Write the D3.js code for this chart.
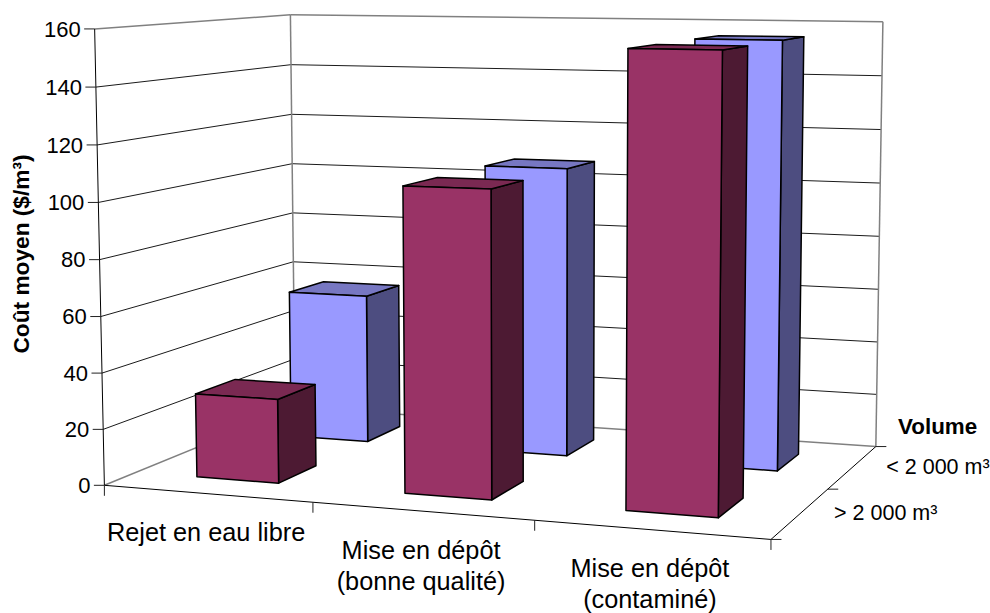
<!DOCTYPE html>
<html><head><meta charset="utf-8"><script src="https://cdn.jsdelivr.net/npm/d3@7/dist/d3.min.js"></script>
<style>html,body{margin:0;background:#fff}svg{display:block}text{font-family:"Liberation Sans",Arial,sans-serif;fill:#000}</style></head>
<body><svg id="c" width="990" height="613"></svg>
<script>
const categories=["Rejet en eau libre","Mise en dépôt\n(bonne qualité)","Mise en dépôt\n(contaminé)"];
const seriesNames=["> 2 000 m³","< 2 000 m³"];
const largeVolume=[30,107,155];
const smallVolume=[56,107,155];
const valueTicks=[0,20,40,60,80,100,120,140,160];
const seriesValues=[largeVolume,smallVolume];
const faceColours=[{front:"#993366",side:"#4d1a33",top:"#7a2952"},{front:"#9999ff",side:"#4d4d80",top:"#7777c2"}];

// Corners of the chart box in the unit cube (category, depth, height) and on the page.
const anchors=[[0,0,0,104,485],[1,0,0,771,539.7],[1,1,0,875.7,446.3],[0,1,0,295.5,407.5],[0,0,1,95,29],[0,1,1,290,14.7],[1,1,1,883,21.7]];

function solve(A,b){
  const n=b.length,M=A.map((r,i)=>[...r,b[i]]);
  for(let i=0;i<n;i++){
    let p=i;
    for(let k=i+1;k<n;k++)if(Math.abs(M[k][i])>Math.abs(M[p][i]))p=k;
    [M[i],M[p]]=[M[p],M[i]];
    for(let k=i+1;k<n;k++){const f=M[k][i]/M[i][i];for(let j=i;j<=n;j++)M[k][j]-=f*M[i][j];}
  }
  const x=Array(n).fill(0);
  for(let i=n-1;i>=0;i--){let s=M[i][n];for(let j=i+1;j<n;j++)s-=M[i][j]*x[j];x[i]=s/M[i][i];}
  return x;
}
// Least-squares perspective camera through the box corners.
function fitCamera(){
  const R=[],B=[];
  anchors.forEach(([u,v,h,x,y])=>{
    R.push([u,v,h,1,0,0,0,0,-x*u,-x*v,-x*h]);B.push(x);
    R.push([0,0,0,0,u,v,h,1,-y*u,-y*v,-y*h]);B.push(y);
  });
  const AtA=d3.range(11).map(i=>d3.range(11).map(j=>d3.sum(R,r=>r[i]*r[j])));
  const Atb=d3.range(11).map(i=>d3.sum(R,(r,k)=>r[i]*B[k]));
  return solve(AtA,Atb);
}
const P=fitCamera();
function proj(u,v,h){
  const w=P[8]*u+P[9]*v+P[10]*h+1;
  return[(P[0]*u+P[1]*v+P[2]*h+P[3])/w,(P[4]*u+P[5]*v+P[6]*h+P[7])/w];
}

const yScale=d3.scaleLinear().domain([0,160]).range([0,1]);
const xBand=d3.scaleBand().domain(categories).range([0,1]).paddingInner(0.6).paddingOuter(0.3);
const zBand=d3.scaleBand().domain(seriesNames).range([0,1]).paddingInner(0.6).paddingOuter(0.3);
const catEdges=d3.scaleLinear().domain([0,categories.length]).range([0,1]);
const depthEdges=d3.scaleLinear().domain([0,seriesNames.length]).range([0,1]);

const svg=d3.select("#c");
const path=d3.line();
const GREY="#808080",DARK="#1a1a1a";
function seg(g,a,b,col,w){g.append("path").attr("d",path([a,b])).attr("fill","none").attr("stroke",col).attr("stroke-width",w||1);}

// Walls and gridlines
const walls=svg.append("g");
valueTicks.forEach(t=>{
  const h=yScale(t),edge=t===160||t===0,c=edge?GREY:DARK,w=edge?1.5:1;
  seg(walls,proj(0,0,h),proj(0,1,h),c,w);
  seg(walls,proj(0,1,h),proj(1,1,h),c,w);
});
seg(walls,proj(0,1,0),proj(0,1,1),GREY,1.5);
seg(walls,proj(1,1,0),proj(1,1,1),GREY,1.5);

// Floor edges and axes
const axes=svg.append("g");
seg(axes,proj(0,0,0),proj(1,0,0),"#000",1);
seg(axes,proj(1,0,0),proj(1,1,0),"#000",1);
seg(axes,proj(0,0,0),proj(0,0,1),"#000",1);

// Value axis ticks and labels
valueTicks.forEach(t=>{
  const [x,y]=proj(0,0,yScale(t));
  seg(axes,[x-10.5,y],[x,y],"#222",1);
  axes.append("text").attr("x",x-14).attr("y",y).attr("dy","0.35em")
    .attr("text-anchor","end").attr("font-size",22).text(t);
});

// Category ticks and labels
d3.range(categories.length+1).forEach(i=>{
  const [x,y]=proj(catEdges(i),0,0);
  seg(axes,[x,y],[x,y+10.5],"#222",1);
});
categories.forEach((c,i)=>{
  const [x,y]=proj(catEdges(i+0.5),0,0);
  const t=axes.append("text").attr("text-anchor","middle").attr("font-size",25.3);
  c.split("\n").forEach((s,k)=>t.append("tspan").attr("x",x-1).attr("y",y+47.6+k*31).text(s));
});

// Depth ticks and labels
d3.range(seriesNames.length+1).forEach(i=>{
  const [x,y]=proj(1,depthEdges(i),0);
  seg(axes,[x,y],[x+10.5,y],"#222",1);
});
seriesNames.forEach((s,i)=>{
  const [x,y]=proj(1,depthEdges(i+0.5),0);
  axes.append("text").attr("x",x+33.5).attr("y",y+7).attr("font-size",21.5).text(s);
});

// Axis titles
svg.append("text").attr("transform","translate(29,254) rotate(-90)").attr("text-anchor","middle")
  .attr("font-weight","bold").attr("font-size",22.7).text("Coût moyen ($/m³)");
svg.append("text").attr("x",898).attr("y",434).attr("font-weight","bold").attr("font-size",22.4).text("Volume");

// Columns, rear series first
const marks=svg.append("g");
[1,0].forEach(si=>{
  const v0=zBand(seriesNames[si]),v1=v0+zBand.bandwidth(),col=faceColours[si];
  categories.forEach((c,i)=>{
    const u0=xBand(c),u1=u0+xBand.bandwidth(),h=yScale(seriesValues[si][i]);
    const face=(pts,fill)=>marks.append("path").attr("d",path(pts)+"Z").attr("fill",fill)
      .attr("stroke","#000").attr("stroke-width",1.5).attr("stroke-linejoin","round");
    face([proj(u1,v0,0),proj(u1,v1,0),proj(u1,v1,h),proj(u1,v0,h)],col.side);
    face([proj(u0,v0,h),proj(u1,v0,h),proj(u1,v1,h),proj(u0,v1,h)],col.top);
    face([proj(u0,v0,0),proj(u1,v0,0),proj(u1,v0,h),proj(u0,v0,h)],col.front);
  });
});
</script></body></html>
